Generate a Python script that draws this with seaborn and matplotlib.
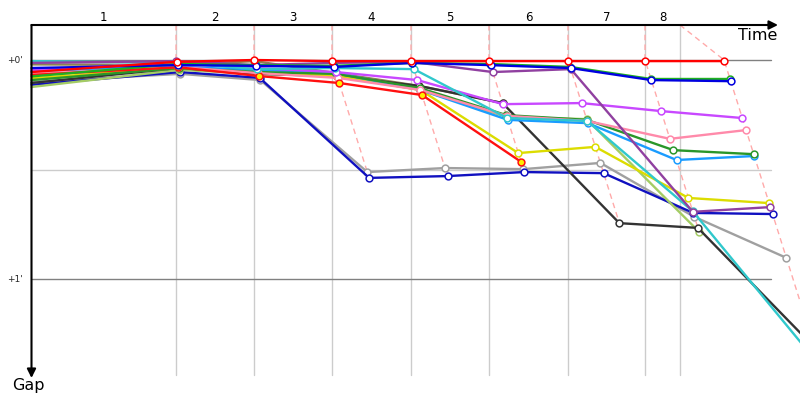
import numpy as np
import pandas as pd
import matplotlib
matplotlib.use("Agg")
import matplotlib.pyplot as plt
import seaborn as sns

sns.set_theme(style="white")
plt.rcParams['font.family'] = ['DejaVu Sans']

# Leader's elapsed time (s) at the end of each lap, and label boundaries
lap_times = [125.7, 193.5, 261.3, 330.0, 397.8, 466.5, 533.5, 602.2]
grid_times = [125.7, 193.5, 261.3, 330.0, 397.8, 466.5, 533.5, 563.9]
lap_labels = ['1', '2', '3', '4', '5', '6', '7', '8']

# Gap to leader (s) at start (lap 0) and after each lap
gap_red = [3.3, 0.5, 0.0, 0.3, 0.3, 0.3, 0.3, 0.3, 0.3]
gap_gray = [6.0, 3.8, 5.5, 30.7, 29.6, 29.9, 28.2, 43.0, 54.2]
gap_darkblue = [6.8, 3.3, 4.9, 32.3, 31.8, 30.7, 31.0, 41.9, 42.2]
gap_yellowgreen = [7.4, 2.7, 3.8, 4.4, 8.2, 15.6, 16.2, 47.1]
gap_olive = [1.2, 1.4, 0.3, 3.6, 7.1, 11.8]
gap_black = [6.3, 2.2, 3.8, 4.4, 7.1, 11.8, 44.7, 46.0, 78.8]
gap_yellow = [5.0, 2.2, 3.3, 4.4, 8.2, 25.5, 23.8, 37.8, 39.2]
gap_lightblue = [3.0, 1.9, 2.7, 3.6, 8.2, 16.4, 17.3, 27.4, 26.3]
gap_darkgreen = [5.5, 2.2, 3.3, 3.8, 7.7, 15.1, 16.4, 24.7, 25.8]
gap_pink = [3.8, 1.9, 3.6, 4.9, 8.2, 15.3, 16.7, 21.6, 19.2]
gap_red2 = [4.1, 2.0, 4.4, 6.3, 9.6, 27.9]
gap_violet = [2.7, 0.8, 2.2, 3.3, 5.5, 12.1, 11.8, 14.0, 15.9]
gap_cyan = [0.3, 0.8, 2.5, 2.2, 2.5, 15.9, 16.7, 41.4, 84.0]
gap_purple = [0.8, 0.3, 1.4, 0.8, 0.5, 3.3, 2.5, 41.6, 40.3]
gap_green = [4.5, 1.1, 1.4, 1.6, 0.8, 1.1, 1.9, 5.2, 5.2]
gap_blue = [2.2, 1.4, 1.6, 1.9, 0.8, 1.4, 2.2, 5.5, 5.8]

drivers = [
    (gap_gray, "#a0a0a0", "white"),
    (gap_darkblue, "#1010c0", "white"),
    (gap_yellowgreen, "#a4cc64", "white"),
    (gap_olive, "#8c8255", "white"),
    (gap_black, "#333333", "white"),
    (gap_yellow, "#dcdc00", "white"),
    (gap_lightblue, "#1a9cff", "white"),
    (gap_darkgreen, "#2a962a", "white"),
    (gap_pink, "#ff8aaa", "white"),
    (gap_red2, "#ff1010", "#ffee00"),
    (gap_violet, "#c848ff", "white"),
    (gap_cyan, "#30c8cc", "white"),
    (gap_purple, "#9040a0", "white"),
    (gap_green, "#20b020", "white"),
    (gap_blue, "#0000e0", "white"),
    (gap_red, "#ff0000", "white"),
]

# pixel mapping helpers for limits (800x400 px canvas)
PX_PER_S_X = 1.15
PX_PER_S_Y = 3.65
X0 = 31.5
Y0 = 60.0

fig = plt.figure(figsize=(8, 4), dpi=100)
ax = fig.add_axes([0, 0, 1, 1])

xmin, xmax = -X0 / PX_PER_S_X, (800 - X0) / PX_PER_S_X
ymin, ymax = -Y0 / PX_PER_S_Y, (400 - Y0) / PX_PER_S_Y
g_axis = (25 - Y0) / PX_PER_S_Y
g_grid_bottom = (375 - Y0) / PX_PER_S_Y
t_hline_end = (771 - X0) / PX_PER_S_X

# vertical grid lines
for gt in grid_times:
    ax.plot([gt, gt], [g_axis, g_grid_bottom], color="#cccccc", lw=1, zorder=1)
# horizontal reference lines
ax.plot([0, t_hline_end], [0, 0], color="#808080", lw=1, zorder=1)
ax.plot([0, t_hline_end], [30, 30], color="#cccccc", lw=1, zorder=1)
ax.plot([0, t_hline_end], [60, 60], color="#808080", lw=1, zorder=1)

# dashed lap lines
for k in range(len(lap_times)):
    gmax = max(d[0][k + 1] for d in drivers if len(d[0]) > k + 1)
    T = lap_times[k]
    ax.plot([grid_times[k], T, T + gmax], [g_axis, 0, gmax],
            color="#ffaaaa", lw=1, ls=(0, (4, 3)), zorder=2)

# driver lines
z = 3
for gaps, col, fill in drivers:
    t = [0.0] + [lap_times[k - 1] + g for k, g in enumerate(gaps) if k >= 1]
    df = pd.DataFrame({"time": t, "gap": gaps})
    sns.lineplot(data=df, x="time", y="gap", color=col, lw=1.7,
                 estimator=None, sort=False, ax=ax, zorder=z)
    ax.scatter(df["time"][1:], df["gap"][1:], s=24, facecolor=fill,
               edgecolor=col, linewidths=1.1, zorder=z + 0.5)
    z += 1

# axes arrows
ax.annotate("", xy=((778 - X0) / PX_PER_S_X, g_axis), xytext=(0, g_axis),
            arrowprops=dict(arrowstyle="-|>", color="black", lw=1.5,
                            mutation_scale=13, shrinkA=0, shrinkB=0), zorder=40)
ax.annotate("", xy=(0, (378 - Y0) / PX_PER_S_Y), xytext=(0, g_axis),
            arrowprops=dict(arrowstyle="-|>", color="black", lw=1.5,
                            mutation_scale=13, shrinkA=0, shrinkB=0), zorder=40)

# lap labels
bounds = [0.0] + grid_times
for i, lab in enumerate(lap_labels):
    ax.text((bounds[i] + bounds[i + 1]) / 2, (17 - Y0) / PX_PER_S_Y, lab,
            ha="center", va="center", fontsize=8.5, color="black")

ax.text((777 - X0) / PX_PER_S_X, (35 - Y0) / PX_PER_S_Y, "Time",
        ha="right", va="center", fontsize=11.5, color="black")
ax.text((12 - X0) / PX_PER_S_X, (385 - Y0) / PX_PER_S_Y, "Gap",
        ha="left", va="center", fontsize=11.5, color="black")
ax.text((23 - X0) / PX_PER_S_X, 0, "+0'", ha="right", va="center", fontsize=6.5)
ax.text((23 - X0) / PX_PER_S_X, 60, "+1'", ha="right", va="center", fontsize=6.5)

ax.set_xlim(xmin, xmax)
ax.set_ylim(ymax, ymin)
ax.set_axis_off()

fig.savefig("out.png", dpi=100)
